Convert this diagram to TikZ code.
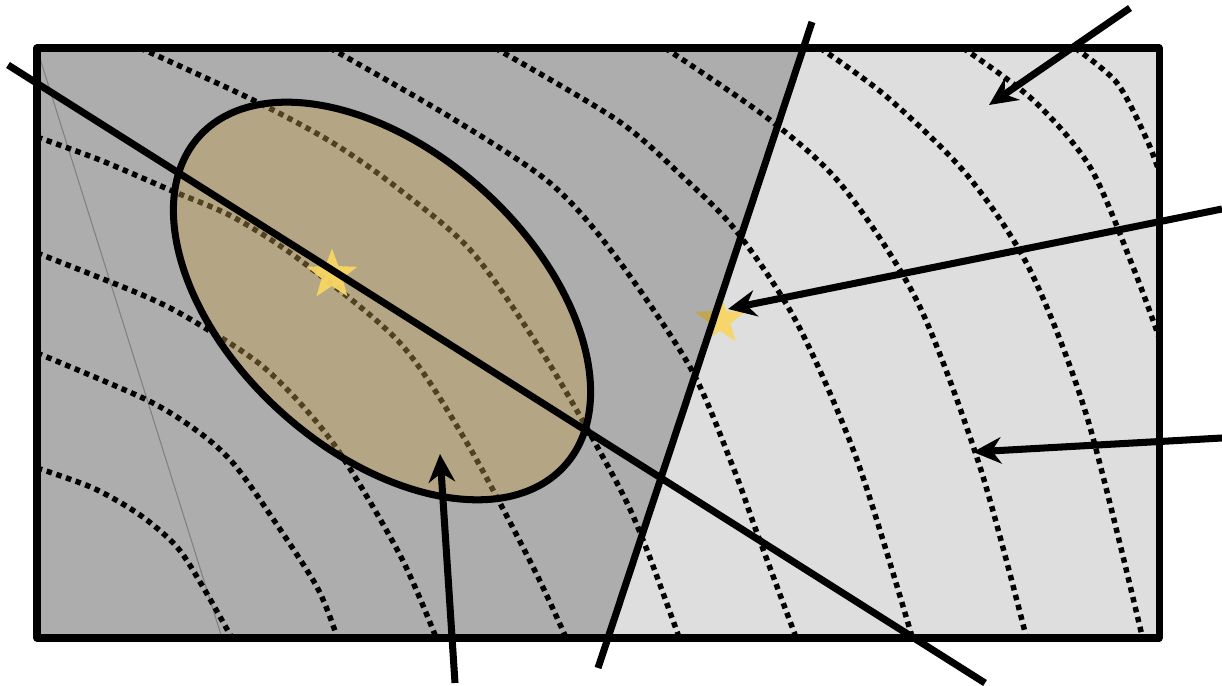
\documentclass[tikz,border=0pt]{standalone}
\usetikzlibrary{arrows.meta, shapes.geometric}

\definecolor{paleregion}{RGB}{222,222,222}
\definecolor{blobfill}{RGB}{192,158,80}
\definecolor{starfill}{RGB}{248,214,100}

\begin{document}
\begin{tikzpicture}[x=0.01cm, y=-0.01cm,
        contour/.style={line width=1.55pt, dash pattern=on 1.55pt off 1.35pt},
        bold/.style={line width=2pt},
        pointer/.style={bold, -{Stealth[length=8pt, width=7.5pt]}},
        starmark/.style={star, star points=5, star point ratio=2.4, minimum size=15pt,
            inner sep=0pt, fill=starfill, fill opacity=0.95}]
                \useasboundingbox (0,0) rectangle (1222,686);

                % the two regions
                \fill[paleregion] (37,48) rectangle (1159,638);
                \node[starmark] (opt) at (720,320) {};
                \fill[black, fill opacity=0.22] (37,48) -- (803,48) -- (608,638) -- (37,638) -- cycle;
                \draw[gray, line width=0.3pt] (38,52) -- (222,638);

                % level curves
                \begin{scope}
                    \clip (37,48) rectangle (1159,638);
                    \draw[contour] plot[smooth] coordinates {(37,468) (93,488) (140,515) (177,547) (203,587) (233,640)};
                    \draw[contour] plot[smooth] coordinates {(37,353) (147,400) (200,433) (233,463) (267,510) (317,587) (338,640)};
                    \draw[contour] plot[smooth] coordinates {(37,253) (147,297) (200,325) (267,370) (333,443) (400,555) (437,640)};
                    \draw[contour] plot[smooth] coordinates {(37,137) (100,160) (170,190) (233,217) (300,260) (400,343) (467,443) (533,567) (567,640)};
                    \draw[contour] plot[smooth] coordinates {(140,48) (253,100) (333,143) (400,190) (473,253) (547,360) (617,483) (645,545) (680,640)};
                    \draw[contour] plot[smooth] coordinates {(330,48) (450,117) (550,183) (613,253) (690,367) (733,467) (757,533) (797,640)};
                    \draw[contour] plot[smooth] coordinates {(495,48) (617,120) (683,177) (737,232) (797,323) (857,460) (913,640)};
                    \draw[contour] plot[smooth] coordinates {(665,48) (770,120) (843,187) (918,303) (980,467) (1027,640)};
                    \draw[contour] plot[smooth] coordinates {(820,48) (887,97) (967,175) (1030,270) (1087,417) (1143,640)};
                    \draw[contour] plot[smooth] coordinates {(963,48) (1033,100) (1090,167) (1133,267) (1160,340)};
                    \draw[contour] plot[smooth] coordinates {(1075,48) (1117,83) (1147,140) (1162,180)};
                \end{scope}

                % feasible blob
                \fill[blobfill, fill opacity=0.42, rotate around={-42:(382,301)}] (382,301) ellipse [x radius=246, y radius=150];
                \draw[bold, rotate around={-42:(382,301)}] (382,301) ellipse [x radius=246, y radius=150];
                \node[starmark] (best) at (332,275) {};

                \draw[bold, line join=round] (37,48) rectangle (1159,638);

                % cutting lines
                \coordinate (cutA) at (8,65);
                \coordinate (cutB) at (985,683);
                \coordinate (splitA) at (812,22);
                \coordinate (splitB) at (598,668);
                \draw[bold] (cutA) -- (cutB);
                \draw[bold] (splitA) -- (splitB);

                % pointers
                \coordinate (p1) at (1130,8);
                \coordinate (q1) at (989,105);
                \coordinate (p2) at (1222,209);
                \coordinate (q2) at (728,309);
                \coordinate (p3) at (1222,438);
                \coordinate (q3) at (973,452);
                \coordinate (p4) at (455,683);
                \coordinate (q4) at (440,454);
                \draw[pointer] (p1) -- (q1);
                \draw[pointer] (p2) -- (q2);
                \draw[pointer] (p3) -- (q3);
                \draw[pointer] (p4) -- (q4);
            \end{tikzpicture}
\end{document}
